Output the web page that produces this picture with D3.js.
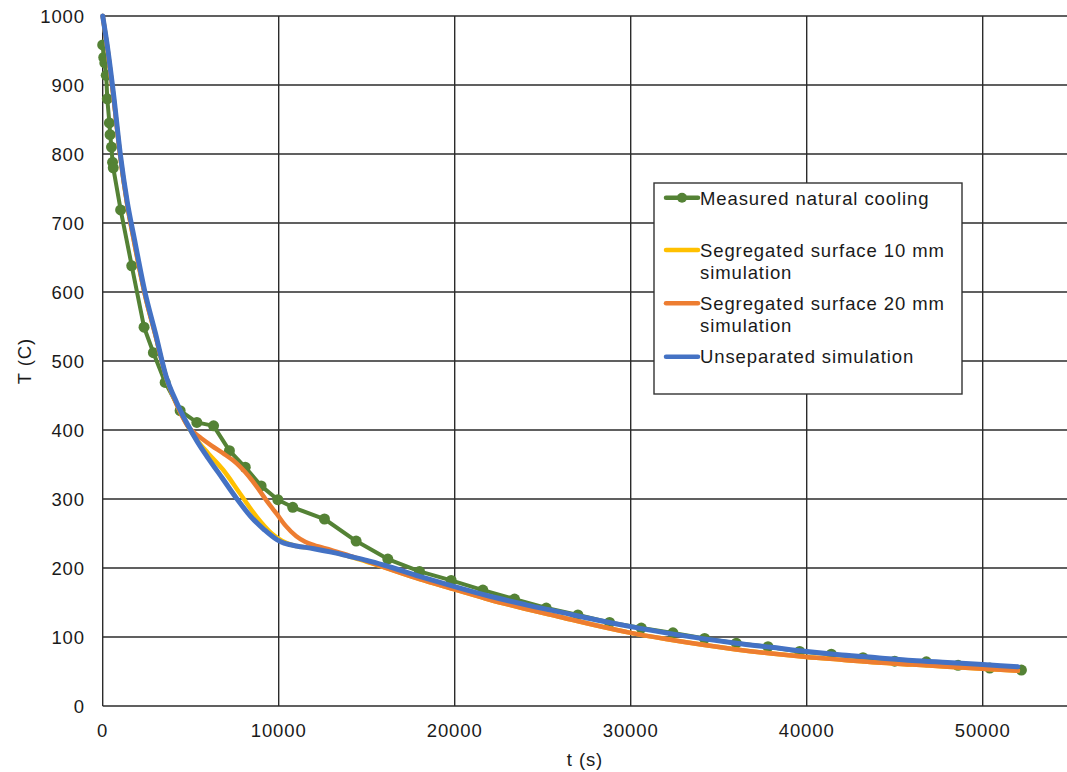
<!DOCTYPE html>
<html>
<head>
<meta charset="utf-8">
<script src="https://cdn.jsdelivr.net/npm/d3@7"></script>
<style>
  html, body { margin: 0; padding: 0; background: #fff; }
  svg { display: block; font-family: "Liberation Sans", Arial, sans-serif; }
  text { letter-spacing: 0.9px; }
</style>
</head>
<body>
<svg id="chart" width="1067" height="772"></svg>
<script>
// Measured natural cooling (time in s, temperature in C)
const measuredTime = [0, 60, 120, 200, 260, 380, 420, 500, 560, 600, 1020, 1650, 2350, 2880, 3550, 4400, 5350, 6300, 7200, 8100, 9000, 9950, 10800, 12600, 14400, 16200, 18000, 19800, 21600, 23400, 25200, 27000, 28800, 30600, 32400, 34200, 36000, 37800, 39600, 41400, 43200, 45000, 46800, 48600, 50400, 52200];
const measuredTemp = [958, 940, 932, 914, 880, 845, 828, 810, 788, 780, 719, 638, 549, 512, 469, 428, 411, 406, 370, 346, 319, 299, 288, 271, 239, 213, 195, 182, 168, 155, 142, 132, 121, 113, 106, 98, 91, 86, 79, 75, 70, 65, 64, 59, 55, 52];

// Segregated surface 10 mm simulation
const seg10Time = [0, 300, 600, 1000, 1400, 1800, 2400, 3000, 3600, 4200, 4800, 5400, 6000, 6850, 7800, 8750, 9600, 10200, 10800, 11500, 12000, 13000, 14000, 15000, 16000, 18000, 20000, 22000, 24000, 26000, 28000, 30000, 32000, 34000, 36000, 38000, 40000, 42000, 44000, 46000, 48000, 50000, 52000];
const seg10Temp = [1000, 947, 886, 796, 726, 671, 596, 537, 477, 437, 407, 384, 366, 342, 308, 274, 250, 239, 233, 230, 229, 224, 217, 209, 201, 184, 169, 154, 141, 129, 117, 106, 97, 89, 82, 76, 71, 67, 63, 60, 57, 54, 51];

// Segregated surface 20 mm simulation
const seg20Time = [0, 300, 600, 1000, 1400, 1800, 2400, 3000, 3600, 4200, 4800, 5200, 5600, 6200, 6850, 7400, 7800, 8300, 8750, 9300, 9900, 10400, 11000, 11500, 12000, 13000, 14000, 15000, 16000, 18000, 20000, 22000, 24000, 26000, 28000, 30000, 32000, 34000, 36000, 38000, 40000, 42000, 44000, 46000, 48000, 50000, 52000];
const seg20Temp = [1000, 947, 886, 796, 726, 671, 596, 537, 477, 437, 407, 396, 388, 377, 366, 356, 347, 333, 318, 298, 278, 261, 246, 238, 233, 226, 218, 210, 201, 184, 169, 154, 141, 129, 117, 106, 97, 89, 82, 76, 71, 67, 63, 60, 57, 54, 51];

// Unseparated simulation
const unsepTime = [0, 300, 600, 1000, 1400, 1800, 2400, 3000, 3600, 4200, 4800, 5400, 6000, 6800, 7600, 8400, 9200, 9900, 10300, 10600, 11000, 12000, 13000, 14000, 15000, 16000, 18000, 20000, 22000, 24000, 26000, 28000, 30000, 32000, 34000, 36000, 38000, 40000, 42000, 44000, 46000, 48000, 50000, 52000];
const unsepTemp = [1000, 950, 890, 800, 730, 677, 600, 540, 478, 440, 409, 382, 359, 330, 301, 275, 255, 241, 236, 234, 232, 228, 223, 217, 211, 204, 188, 173, 159, 147, 136, 125, 115, 106, 98, 91, 85, 79, 74, 70, 66, 63, 60, 57];

const xTicks = [0, 10000, 20000, 30000, 40000, 50000];
const yTicks = [0, 100, 200, 300, 400, 500, 600, 700, 800, 900, 1000];

const legendLabels = [
  ["Measured natural cooling"],
  ["Segregated surface 10 mm", "simulation"],
  ["Segregated surface 20 mm", "simulation"],
  ["Unseparated simulation"]
];

const colors = {
  measured: "#548235",
  seg10: "#FFC000",
  seg20: "#ED7D31",
  unsep: "#4472C4"
};

const svg = d3.select("#chart");
const W = 1067, H = 772;
svg.append("rect").attr("width", W).attr("height", H).attr("fill", "#fff");

const plotLeft = 102.7, plotTop = 16, plotBottom = 706;
const x = d3.scaleLinear().domain([0, 55000]).range([plotLeft, plotLeft + 5.5 * 176]);
const y = d3.scaleLinear().domain([0, 1000]).range([plotBottom, plotTop]);

const gridColor = "#2b2b2b";
const textColor = "#1a1a1a";
const fontSize = 18.5;

// horizontal gridlines
svg.append("g").selectAll("line").data(yTicks).join("line")
  .attr("x1", plotLeft).attr("x2", W)
  .attr("y1", d => y(d)).attr("y2", d => y(d))
  .attr("stroke", gridColor).attr("stroke-width", 1.4);

// vertical gridlines
svg.append("g").selectAll("line").data(xTicks).join("line")
  .attr("x1", d => x(d)).attr("x2", d => x(d))
  .attr("y1", plotTop).attr("y2", plotBottom)
  .attr("stroke", gridColor).attr("stroke-width", 1.4);

// tick labels
svg.append("g").selectAll("text").data(yTicks).join("text")
  .attr("x", 85).attr("y", d => y(d) + 6.5)
  .attr("text-anchor", "end")
  .attr("font-size", fontSize).attr("fill", textColor)
  .text(d => d);

svg.append("g").selectAll("text").data(xTicks).join("text")
  .attr("x", d => x(d)).attr("y", 737)
  .attr("text-anchor", "middle")
  .attr("font-size", fontSize).attr("fill", textColor)
  .text(d => d);

// axis titles
svg.append("text")
  .attr("x", 585).attr("y", 766)
  .attr("text-anchor", "middle")
  .attr("font-size", fontSize).attr("fill", textColor)
  .text("t (s)");

svg.append("text")
  .attr("transform", "translate(31,361) rotate(-90)")
  .attr("text-anchor", "middle")
  .attr("font-size", fontSize).attr("fill", textColor)
  .text("T (C)");

// series
const zip = (ts, vs) => ts.map((t, i) => ({ t, v: vs[i] }));
const smooth = d3.line().x(d => x(d.t)).y(d => y(d.v)).curve(d3.curveMonotoneX);
const straight = d3.line().x(d => x(d.t)).y(d => y(d.v));

const measured = zip(measuredTime, measuredTemp);

svg.append("path").datum(measured)
  .attr("d", straight).attr("fill", "none")
  .attr("stroke", colors.measured).attr("stroke-width", 4)
  .attr("stroke-linejoin", "round");
svg.append("g").selectAll("circle").data(measured).join("circle")
  .attr("cx", d => x(d.t)).attr("cy", d => y(d.v)).attr("r", 5.5)
  .attr("fill", colors.measured);

[[seg10Time, seg10Temp, colors.seg10, 4.5],
 [seg20Time, seg20Temp, colors.seg20, 4.5],
 [unsepTime, unsepTemp, colors.unsep, 5]].forEach(([ts, vs, c, w]) => {
  svg.append("path").datum(zip(ts, vs))
    .attr("d", smooth).attr("fill", "none")
    .attr("stroke", c).attr("stroke-width", w)
    .attr("stroke-linejoin", "round").attr("stroke-linecap", "round");
});

// legend
const lg = svg.append("g");
lg.append("rect").attr("x", 654).attr("y", 183).attr("width", 308).attr("height", 211)
  .attr("fill", "#fff").attr("stroke", "#333").attr("stroke-width", 1.4);

const legendRows = [
  { color: colors.measured, ly: 197.7, marker: true, lines: legendLabels[0], ty: [205] },
  { color: colors.seg10, ly: 250, marker: false, lines: legendLabels[1], ty: [257, 279] },
  { color: colors.seg20, ly: 303.3, marker: false, lines: legendLabels[2], ty: [310, 332] },
  { color: colors.unsep, ly: 356.7, marker: false, lines: legendLabels[3], ty: [363] }
];
legendRows.forEach(r => {
  lg.append("line").attr("x1", 666).attr("x2", 698).attr("y1", r.ly).attr("y2", r.ly)
    .attr("stroke", r.color).attr("stroke-width", 4.5).attr("stroke-linecap", "round");
  if (r.marker) {
    lg.append("circle").attr("cx", 682).attr("cy", r.ly).attr("r", 5).attr("fill", r.color);
  }
  r.lines.forEach((s, i) => {
    lg.append("text").attr("x", 700).attr("y", r.ty[i])
      .attr("font-size", fontSize).attr("fill", textColor).text(s);
  });
});
</script>
</body>
</html>
